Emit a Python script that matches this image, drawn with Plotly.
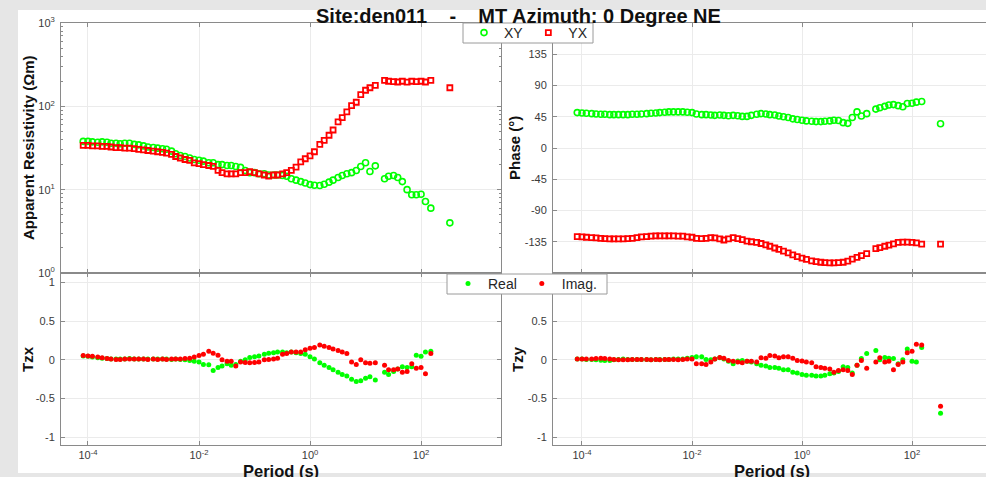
import plotly.graph_objects as go

# ---------------------------------------------------------------------------
# MT sounding, site den011 (azimuth 0 degrees NE)
# ---------------------------------------------------------------------------
PERIOD = [
    8.2e-5,
    1.0e-4, 1.2e-4, 1.5e-4, 1.8e-4, 2.2e-4, 2.6e-4, 3.2e-4, 3.8e-4, 4.6e-4, 5.6e-4, 6.8e-4, 8.2e-4,
    1.0e-3, 1.2e-3, 1.5e-3, 1.8e-3, 2.2e-3, 2.6e-3, 3.2e-3, 3.8e-3, 4.6e-3, 5.6e-3, 6.8e-3, 8.2e-3,
    1.0e-2, 1.2e-2, 1.5e-2, 1.8e-2, 2.2e-2, 2.6e-2, 3.2e-2, 3.8e-2, 4.6e-2, 5.6e-2, 6.8e-2, 8.2e-2,
    0.10, 0.12, 0.15, 0.18, 0.22, 0.26, 0.32, 0.38, 0.46, 0.56, 0.68, 0.82,
    1.0, 1.2, 1.5, 1.8, 2.2, 2.6, 3.2, 3.8, 4.6, 5.6, 6.8, 8.2,
    10, 12, 15, 18, 22, 26, 32, 38, 46, 56, 68, 82,
    100, 120, 150,
    330,
]

# apparent resistivity (ohm-m)
RHO_XY = [
    38,
    38, 37.5, 37, 37.5, 37, 36, 36, 35.5, 36, 36, 35, 34.5,
    33.5, 32.5, 32, 31.5, 31, 30.5, 29, 27, 25.7, 25, 24, 23,
    22.5, 22, 21, 21, 20, 20, 19.5, 19.5, 19, 18.5, 17, 16,
    16, 15.5, 15.5, 15, 15, 15, 14.8, 14.5, 13.5, 13, 12.5, 12,
    11.5, 11.3, 11.2, 11.6, 12.3, 13, 14, 14.8, 15.5, 16, 17, 19,
    21, 16.5, 19.3, None, 13.5, 14.5, 14.8, 14, 12.5, 10, 8.7, 8.7,
    8.8, 7.2, 6.0,
    4.0,
]
RHO_YX = [
    34,
    34, 33.5, 33.5, 33, 33, 32.5, 32, 32, 31.5, 31.5, 31, 30.5,
    30, 29.5, 29, 28.5, 28, 27.5, 26.5, 25, 24, 23, 22.5, 21,
    20.5, 20, 19.5, 19, 17, 16, 15.5, 15.5, 15.5, 16, 16, 16.5,
    16, 15.5, 15, 14.5, 15, 15, 15.5, 16, 17, 18.6, 21.5, 23.5,
    25.5, 28.5, 35, 39, 45, 52, 65, 73, 86, 102, 112, 138,
    156, 167, 178, None, 205, 200, 198, 196, 200, 195, 200, 198,
    200, 196, 205,
    167,
]

# impedance phase (degrees)
PHS_XY = [
    51,
    50.5, 50, 49.5, 49, 48.5, 48.5, 48, 48, 48, 48, 48, 48.5,
    48.5, 49, 49.5, 50, 50.5, 51, 51.5, 52, 52, 52, 52, 51.5,
    51, 49, 48, 48, 47.5, 47, 47.5, 47, 46.5, 47, 46.5, 45.5,
    45.5, 47, 48.5, 49.5, 49, 48, 47.5, 46, 45, 44, 42, 41,
    40, 39, 38.5, 38, 38, 38.5, 39, 40, 39.5, 36.5, 35.5, 44,
    52, 46, 49.5, None, 56, 58, 60, 62, 62.5, 61, 59.5, 64,
    64.5, 66, 67,
    35,
]
PHS_YX = [
    -127.5,
    -128, -128.5, -129, -129.5, -130, -130.5, -131, -131, -131, -131, -130.5, -130,
    -129, -128, -127.5, -127, -126.5, -126.5, -126.5, -126.5, -126.5, -127, -127, -128,
    -128.5, -130, -130.5, -130, -129, -129.5, -131, -132.5, -131, -129, -130.5, -132,
    -134, -135, -136, -137.5, -139.5, -141.5, -144, -146, -148.5, -151, -154, -156.5,
    -158.5, -160.5, -162.5, -163.5, -164.5, -165, -165.5, -165.5, -165, -164.5, -163, -160,
    -157.5, -155, -152, None, -145, -143.5, -141.5, -140, -138, -136, -135.5, -135.5,
    -136, -136.5, -138.5,
    -138.5,
]

# tipper components
TZX_RE = [
    0.05,
    0.045, 0.035, 0.025, 0.02, 0.015, 0.01, 0.01, 0.01, 0.01, 0.015, 0.01, 0.01,
    0.01, 0.01, 0.01, 0.01, 0.01, 0.01, 0.005, 0.01, 0.005, 0.0, -0.01, -0.02,
    -0.03, -0.06, -0.065, -0.14, -0.1, -0.08, -0.05, -0.07, -0.06, -0.02, 0.0, 0.03,
    0.04, 0.05, 0.07, 0.085, 0.09, 0.1, 0.1, 0.09, 0.1, 0.09, 0.08, 0.07,
    0.04, 0.01, -0.04, -0.07, -0.1, -0.13, -0.16, -0.19, -0.21, -0.25, -0.28, -0.27,
    -0.24, -0.22, -0.26, None, -0.16, -0.19, -0.15, -0.12, -0.09, -0.1, -0.09, 0.06,
    0.045, 0.1, 0.11,
    None,
]
TZX_IM = [
    0.055,
    0.05, 0.045, 0.035, 0.025, 0.015, 0.01, 0.005, 0.005, 0.01, 0.01, 0.01, 0.01,
    0.01, 0.005, 0.01, 0.005, 0.01, 0.005, 0.01, 0.01, 0.01, 0.015, 0.02, 0.035,
    0.055, 0.07, 0.11, 0.085, 0.06, 0.0, -0.02, -0.02, -0.08, -0.03, -0.035, -0.04,
    -0.035, -0.03, 0.0, 0.005, 0.01, 0.02, 0.07, 0.08, 0.1, 0.1, 0.1, 0.13,
    0.15, 0.16, 0.19, 0.175, 0.16, 0.14, 0.12, 0.1, 0.08, -0.03, -0.06, 0.0,
    -0.04, -0.045, -0.04, None, -0.07, -0.13, -0.13, -0.12, -0.16, -0.15, -0.05, -0.11,
    -0.1, -0.18, 0.08,
    None,
]
TZY_RE = [
    0.01,
    0.01, 0.005, 0.005, 0.0, -0.005, -0.01, -0.01, 0.0, 0.005, 0.01, 0.005, 0.005,
    0.005, 0.005, 0.005, 0.0, 0.005, 0.005, 0.005, 0.005, 0.01, 0.01, 0.01, 0.02,
    0.03, 0.04, 0.04, 0.005, 0.0, 0.01, 0.025, 0.01, -0.02, -0.05, -0.015, -0.01,
    -0.02, -0.03, -0.05, -0.07, -0.08, -0.1, -0.1, -0.11, -0.13, -0.13, -0.16, -0.17,
    -0.19, -0.2, -0.2, -0.21, -0.21, -0.2, -0.18, -0.17, -0.15, -0.09, -0.1, -0.17,
    -0.07, 0.015, 0.08, None, 0.12, 0.0, 0.03, 0.02, 0.015, -0.05, 0.0, 0.14,
    -0.02, -0.03, 0.16,
    -0.69,
]
TZY_IM = [
    0.01,
    0.01, 0.01, 0.01, 0.015, 0.02, 0.015, 0.01, 0.005, 0.0, 0.0, 0.0, 0.005,
    0.005, 0.005, 0.005, 0.0, 0.005, 0.0, 0.005, 0.005, 0.005, 0.0, 0.005, 0.01,
    0.01, -0.05, -0.05, -0.06, -0.03, 0.01, 0.03, 0.02, -0.01, -0.02, -0.03, -0.04,
    -0.02, -0.02, -0.03, 0.025, 0.02, 0.055, 0.05, 0.025, 0.04, 0.04, 0.02, -0.01,
    -0.015, -0.03, -0.04, -0.09, -0.1, -0.11, -0.12, -0.16, -0.14, -0.13, -0.14, -0.19,
    -0.07, -0.01, -0.11, None, -0.03, 0.025, -0.03, -0.02, -0.13, -0.06, -0.03, 0.09,
    0.11, 0.2, 0.19,
    -0.6,
]

# axis ticks
PERIOD_TICKS = [1e-4, 1e-2, 1e0, 1e2]
PERIOD_TICK_TEXT = ["10<sup>-4</sup>", "10<sup>-2</sup>", "10<sup>0</sup>", "10<sup>2</sup>"]
RHO_TICKS = [1, 10, 100, 1000]
RHO_TICK_TEXT = ["10<sup>0</sup>", "10<sup>1</sup>", "10<sup>2</sup>", "10<sup>3</sup>"]
PHASE_TICKS = [-135, -90, -45, 0, 45, 90, 135]
PHASE_TICK_TEXT = ["-135", "-90", "-45", "0", "45", "90", "135"]
TIPPER_TICKS = [-1, -0.5, 0, 0.5, 1]
TIPPER_TICK_TEXT = ["-1", "-0.5", "0", "0.5", "1"]

TITLE = "Site:den011\u00a0\u00a0\u00a0\u00a0-\u00a0\u00a0\u00a0\u00a0MT Azimuth: 0 Degree NE"

# ---------------------------------------------------------------------------
FONT = "Liberation Sans, Arial, Helvetica, sans-serif"
GREEN = "#00ff00"
RED = "#ff0000"
W, H = 986, 477


def px_x(p):
    return p / W


def px_y(p):
    return 1 - p / H


fig = go.Figure()

circle_marker = dict(symbol="circle-open", size=6, line=dict(width=1.6))
square_marker = dict(symbol="square-open", size=5, line=dict(width=1.8))
dot_marker = dict(symbol="circle", size=5)

# resistivity
fig.add_trace(go.Scatter(x=PERIOD, y=RHO_XY, mode="markers", name="XY", legend="legend",
                         marker=dict(color=GREEN, **circle_marker), xaxis="x", yaxis="y"))
fig.add_trace(go.Scatter(x=PERIOD, y=RHO_YX, mode="markers", name="YX", legend="legend",
                         marker=dict(color=RED, **square_marker), xaxis="x", yaxis="y"))
# phase
fig.add_trace(go.Scatter(x=PERIOD, y=PHS_XY, mode="markers", name="XY", showlegend=False,
                         marker=dict(color=GREEN, **circle_marker), xaxis="x2", yaxis="y2"))
fig.add_trace(go.Scatter(x=PERIOD, y=PHS_YX, mode="markers", name="YX", showlegend=False,
                         marker=dict(color=RED, **square_marker), xaxis="x2", yaxis="y2"))
# tipper Tzx
fig.add_trace(go.Scatter(x=PERIOD, y=TZX_RE, mode="markers", name="Real", legend="legend2",
                         marker=dict(color=GREEN, **dot_marker), xaxis="x3", yaxis="y3"))
fig.add_trace(go.Scatter(x=PERIOD, y=TZX_IM, mode="markers", name="Imag.", legend="legend2",
                         marker=dict(color=RED, **dot_marker), xaxis="x3", yaxis="y3"))
# tipper Tzy
fig.add_trace(go.Scatter(x=PERIOD, y=TZY_RE, mode="markers", name="Real", showlegend=False,
                         marker=dict(color=GREEN, **dot_marker), xaxis="x4", yaxis="y4"))
fig.add_trace(go.Scatter(x=PERIOD, y=TZY_IM, mode="markers", name="Imag.", showlegend=False,
                         marker=dict(color=RED, **dot_marker), xaxis="x4", yaxis="y4"))

FRAME = "#8a8a8a"
GRID = "#ebebeb"
tick_font = dict(family=FONT, size=11, color="#3a3a3a")
base = dict(showline=True, linecolor=FRAME, linewidth=1, ticks="inside", ticklen=4,
            tickcolor=FRAME, showgrid=True, gridcolor=GRID, gridwidth=1, zeroline=False,
            tickfont=tick_font, automargin=False)

XL = [px_x(61), px_x(501)]
XR = [px_x(553), 1.0]
YT = [px_y(273), px_y(23)]
YB = [px_y(445), px_y(273)]
X_RANGE_L = [-4.486, 3.44]
X_RANGE_R = [-4.527, 3.345]

period_axis = dict(type="log", tickmode="array", tickvals=PERIOD_TICKS, ticktext=PERIOD_TICK_TEXT,
                   ticklabelstandoff=0, **base)

# legend frames (drawn as boxes; the legend entries sit on top of them)
LEGEND_BOX_1 = (463, 23, 593, 43)
LEGEND_BOX_2 = (447, 274, 607, 294)


def box(b):
    x0, y0, x1, y1 = b
    return dict(type="rect", xref="paper", yref="paper", x0=px_x(x0), x1=px_x(x1),
                y0=px_y(y1), y1=px_y(y0), fillcolor="white",
                line=dict(color="#9a9a9a", width=1), layer="above")


legend_style = dict(orientation="h", xanchor="left", yanchor="middle",
                    bgcolor="rgba(0,0,0,0)", borderwidth=0, itemwidth=30,
                    font=dict(family=FONT, size=14, color="#262626"))

fig.update_layout(
    width=W, height=H,
    margin=dict(l=0, r=0, t=0, b=0, pad=0, autoexpand=False),
    paper_bgcolor="#e6e6e6",
    plot_bgcolor="white",
    xaxis=dict(domain=XL, range=X_RANGE_L, anchor="y", showticklabels=False, mirror="ticks",
               **period_axis),
    yaxis=dict(domain=YT, type="log", range=[0, 3], anchor="x", mirror="ticks",
               tickmode="array", tickvals=RHO_TICKS, ticktext=RHO_TICK_TEXT, ticklabelstandoff=3,
               minor=dict(ticks="inside", ticklen=2, tickcolor=FRAME, dtick="D1", showgrid=False),
               **base),
    xaxis2=dict(domain=XR, range=X_RANGE_R, anchor="y2", showticklabels=False, mirror="ticks",
                **period_axis),
    yaxis2=dict(domain=YT, range=[-180, 180], anchor="x2", mirror=False, ticklabelstandoff=3,
                tickmode="array", tickvals=PHASE_TICKS, ticktext=PHASE_TICK_TEXT, **base),
    xaxis3=dict(domain=XL, range=X_RANGE_L, anchor="y3", mirror="ticks", **period_axis),
    yaxis3=dict(domain=YB, range=[-1.1, 1.12], anchor="x3", mirror="ticks", ticklabelstandoff=3,
                tickmode="array", tickvals=TIPPER_TICKS, ticktext=TIPPER_TICK_TEXT, **base),
    xaxis4=dict(domain=XR, range=X_RANGE_R, anchor="y4", mirror="ticks", **period_axis),
    yaxis4=dict(domain=YB, range=[-1.1, 1.12], anchor="x4", mirror=False, ticklabelstandoff=3,
                tickmode="array", tickvals=TIPPER_TICKS, ticktext=TIPPER_TICK_TEXT, **base),
    legend=dict(x=px_x(464), y=px_y(33), **legend_style),
    legend2=dict(x=px_x(448), y=px_y(284), **legend_style),
    shapes=[
        dict(type="rect", xref="paper", yref="paper", x0=px_x(18), x1=1.0,
             y0=px_y(473), y1=px_y(10), fillcolor="white", line=dict(width=0), layer="below"),
        box(LEGEND_BOX_1),
        box(LEGEND_BOX_2),
    ],
    showlegend=True,
)

title_font = dict(family=FONT, size=15, color="#111111")
ann = [
    dict(text="<b>" + TITLE + "</b>", x=px_x(518.5), y=px_y(16.5),
         font=dict(family=FONT, size=20, color="#111111")),
    dict(text="<b>Apparent Resistivity (\u03a9m)</b>", x=px_x(28), y=px_y(148),
         textangle=-90, font=title_font),
    dict(text="<b>Phase (\u00b0)</b>", x=px_x(514), y=px_y(148), textangle=-90, font=title_font),
    dict(text="<b>Tzx</b>", x=px_x(27), y=px_y(359), textangle=-90, font=title_font),
    dict(text="<b>Tzy</b>", x=px_x(517), y=px_y(359), textangle=-90, font=title_font),
    dict(text="<b>Period (s)</b>", x=px_x(281), y=px_y(471),
         font=dict(family=FONT, size=16.5, color="#111111")),
    dict(text="<b>Period (s)</b>", x=px_x(772), y=px_y(471),
         font=dict(family=FONT, size=16.5, color="#111111")),
]
for a in ann:
    a.update(xref="paper", yref="paper", showarrow=False, xanchor="center", yanchor="middle")
fig.update_layout(annotations=ann)

fig.write_html("out.html")
